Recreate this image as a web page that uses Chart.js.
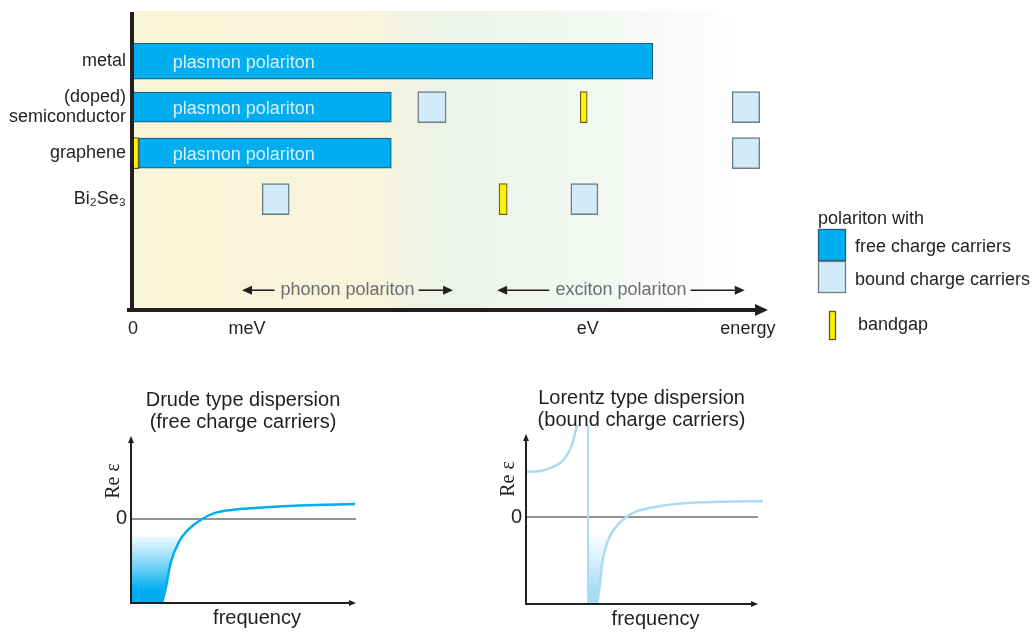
<!DOCTYPE html>
<html>
<head>
<meta charset="utf-8">
<title>Polaritons</title>
<script src="https://cdn.jsdelivr.net/npm/chart.js@4.4.1/dist/chart.umd.min.js"></script>
<style>
  html, body { margin: 0; padding: 0; background: #fff; }
  body { width: 1032px; height: 633px; position: relative; overflow: hidden; }
  .box { position: absolute; }
  #mainBox { left: 0; top: 0; width: 1032px; height: 350px; }
  #drudeBox { left: 90px; top: 380px; width: 290px; height: 253px; }
  #lorentzBox { left: 490px; top: 380px; width: 290px; height: 253px; }
</style>
</head>
<body>
<div class="box" id="mainBox"><canvas id="main"></canvas></div>
<div class="box" id="drudeBox"><canvas id="drude"></canvas></div>
<div class="box" id="lorentzBox"><canvas id="lorentz"></canvas></div>

<script>
// ---------- data: energy chart (arbitrary energy units 0..100) ----------
const materials = ['metal', ['(doped)', 'semiconductor'], 'graphene', 'Bi₂Se₃'];
const materialRows = [1, 2, 3, 4];

// plasmon polariton (free charge carriers)
const metalRows = [1];
const metalRanges = [[0, 82.5]];
const freeRows = [2, 3];
const freeRanges = [[0, 41], [0.9, 41]];
const freeLabel = 'plasmon polariton';

// bound charge carriers
const boundRows = [2, 2, 3, 4, 4];
const boundRanges = [[45.2, 49.7], [95.1, 99.5], [95.1, 99.5], [20.5, 24.8], [69.5, 73.8]];

// bandgaps
const gapRows = [2, 3, 4];
const gapRanges = [[71, 72.1], [0, 0.9], [58.1, 59.4]];

const energyTicks = [0, 18.1, 72.2, 97.6];
const energyLabels = ['0', 'meV', 'eV', 'energy'];

const polaritonNames = ['phonon polariton', 'exciton polariton'];
const polaritonRanges = [[17.3, 50.8], [57.8, 97.1]];
const polaritonRow = 5.98;

const legendTitle = 'polariton with';
const legendLabels = ['free charge carriers', 'bound charge carriers', 'bandgap'];

// ---------- data: dispersion sketches ----------
const drudeFreq = [1.41, 1.59, 1.8, 2.23, 2.59, 3.23, 3.82, 4.59, 5.64, 7.68, 10.18];
const drudeEps  = [-4.0, -3.24, -2.1, -1.0, -0.52, 0, 0.29, 0.43, 0.52, 0.64, 0.71];
const drudeFillFreq = [0, 1.41, 1.59, 1.8, 2.23, 2.32];
const drudeFillEps  = [-4.0, -4.0, -3.24, -2.1, -1.0, -0.84];
const drudeFillTop = -0.84;

const lorentzLowFreq = [0, 0.64, 1.09, 1.55, 1.86, 2.09, 2.23, 2.32];
const lorentzLowEps  = [2.14, 2.19, 2.33, 2.57, 2.95, 3.43, 4.0, 4.38];
const lorentzPoleFreq = 2.82;
const lorentzHighFreq = [3.23, 3.34, 3.48, 3.73, 4.05, 4.5, 4.95, 5.41, 5.86, 6.77, 8.5, 10.77];
const lorentzHighEps  = [-4.14, -3.33, -2.1, -1.1, -0.52, -0.05, 0.24, 0.38, 0.48, 0.62, 0.71, 0.76];
const lorentzFillFreq = [2.82, 3.23, 3.34, 3.48, 3.73, 3.8];
const lorentzFillEps  = [-4.14, -4.14, -3.33, -2.1, -1.1, -0.86];
const lorentzFillTop = -0.86;

// ---------- shared styling ----------
const SANS = '"Liberation Sans", Arial, sans-serif';
const SERIF = '"Liberation Serif", "Times New Roman", serif';
const INK = '#231f20';
const CYAN = '#00aeef';
const PALE = '#a8dcf3';

Chart.defaults.font.family = SANS;
Chart.defaults.color = INK;

const toBars = (rows, ranges) => rows.map((r, i) => ({ y: r, x: ranges[i] }));
const toPoints = (xs, ys) => xs.map((v, i) => ({ x: v, y: ys[i] }));

function arrowLine(ctx, from, to, y, head) {
  const dir = Math.sign(to - from);
  ctx.beginPath();
  ctx.moveTo(from, y);
  ctx.lineTo(to - dir * head, y);
  ctx.stroke();
  ctx.beginPath();
  ctx.moveTo(to, y);
  ctx.lineTo(to - dir * head, y - head * 0.45);
  ctx.lineTo(to - dir * head, y + head * 0.45);
  ctx.closePath();
  ctx.fill();
}

// background, in-bar labels, polariton ranges, axes and legend
const energyDecor = {
  id: 'energyDecor',
  beforeDatasetsDraw(chart) {
    const { ctx, chartArea: a } = chart;
    const g = ctx.createLinearGradient(a.left, 0, a.right + 6, 0);
    g.addColorStop(0, '#f8f4d8');
    g.addColorStop(0.36, '#f7f4da');
    g.addColorStop(0.5, '#edf3ea');
    g.addColorStop(0.74, '#f3f7f2');
    g.addColorStop(0.97, '#ffffff');
    ctx.save();
    ctx.fillStyle = g;
    ctx.fillRect(a.left, a.top - 1, a.right + 6 - a.left, a.bottom - a.top + 1);
    ctx.restore();
  },
  afterDatasetsDraw(chart) {
    const { ctx, chartArea: a, scales: { x, y } } = chart;
    ctx.save();
    ctx.font = '18px ' + SANS;
    ctx.textBaseline = 'middle';

    // text inside the plasmon bars
    ctx.fillStyle = '#d8f0fb';
    ctx.textAlign = 'left';
    [...metalRows, ...freeRows].forEach(r => {
      ctx.fillText(freeLabel, x.getPixelForValue(6.3), y.getPixelForValue(r) + 2);
    });

    // phonon / exciton polariton ranges
    const ay = y.getPixelForValue(polaritonRow);
    ctx.strokeStyle = INK;
    ctx.lineWidth = 1.6;
    polaritonNames.forEach((name, i) => {
      const x0 = x.getPixelForValue(polaritonRanges[i][0]);
      const x1 = x.getPixelForValue(polaritonRanges[i][1]);
      const cx = (x0 + x1) / 2;
      const w = ctx.measureText(name).width;
      ctx.fillStyle = '#6d6e71';
      ctx.textAlign = 'center';
      ctx.fillText(name, cx, ay);
      ctx.fillStyle = INK;
      arrowLine(ctx, cx - w / 2 - 6, x0, ay, 10);
      arrowLine(ctx, cx + w / 2 + 4, x1, ay, 10);
    });

    // axes
    ctx.fillStyle = INK;
    ctx.fillRect(a.left - 3, a.top, 4, a.bottom + 2 - a.top);
    ctx.fillRect(a.left - 6, a.bottom - 2, a.right - 6 - (a.left - 6), 4);
    ctx.beginPath();
    ctx.moveTo(a.right + 5, a.bottom);
    ctx.lineTo(a.right - 8, a.bottom - 6);
    ctx.lineTo(a.right - 8, a.bottom + 6);
    ctx.closePath();
    ctx.fill();

    // legend
    ctx.textAlign = 'left';
    ctx.fillStyle = INK;
    ctx.fillText(legendTitle, 818, 219);
    ctx.lineWidth = 1.3;
    ctx.fillStyle = CYAN;
    ctx.strokeStyle = '#1f5f7e';
    ctx.fillRect(818, 229, 28, 31);
    ctx.strokeRect(818.5, 229.5, 27, 31);
    ctx.fillStyle = '#d1ebf8';
    ctx.strokeStyle = '#6f7d86';
    ctx.fillRect(818, 261, 28, 31);
    ctx.strokeRect(818.5, 261.5, 27, 31);
    ctx.fillStyle = '#fff200';
    ctx.strokeStyle = '#5c5a1e';
    ctx.fillRect(829, 311, 7, 29);
    ctx.strokeRect(829.5, 311.5, 6, 28);
    ctx.fillStyle = INK;
    ctx.fillText(legendLabels[0], 855, 247);
    ctx.fillText(legendLabels[1], 855, 280);
    ctx.fillText(legendLabels[2], 858, 325);
    ctx.restore();
  }
};

const barBase = { grouped: true, stack: 'rows', borderSkipped: false };

new Chart(document.getElementById('main'), {
  type: 'bar',
  data: {
    datasets: [
      { ...barBase, label: 'bandgap', data: toBars(gapRows, gapRanges),
        backgroundColor: '#fff200', borderColor: '#5c5a1e', borderWidth: 1.2, barThickness: 31 },
      { ...barBase, label: 'bound charge carriers', data: toBars(boundRows, boundRanges),
        backgroundColor: '#d1ebf8', borderColor: '#6f7d86', borderWidth: 1.5, barThickness: 31 },
      { ...barBase, label: 'free charge carriers', data: toBars(freeRows, freeRanges),
        backgroundColor: CYAN, borderColor: '#1f5f7e', borderWidth: 1.2, barThickness: 30 },
      { ...barBase, label: 'free charge carriers (metal)', data: toBars(metalRows, metalRanges),
        backgroundColor: CYAN, borderColor: '#1f5f7e', borderWidth: 1.2, barThickness: 36 }
    ]
  },
  options: {
    indexAxis: 'y',
    responsive: true,
    maintainAspectRatio: false,
    animation: false,
    events: [],
    layout: { padding: { top: 12, right: 269, left: 0, bottom: 0 } },
    plugins: { legend: { display: false }, tooltip: { enabled: false } },
    scales: {
      x: {
        type: 'linear', min: 0, max: 100, stacked: false, offset: false,
        grid: { display: false, drawTicks: false },
        border: { display: false },
        afterBuildTicks: s => { s.ticks = energyTicks.map(v => ({ value: v })); },
        afterFit: s => { s.height = 40; s.paddingLeft = 0; s.paddingRight = 0; },
        ticks: {
          autoSkip: false, maxRotation: 0, padding: 8,
          font: { size: 18 }, color: INK,
          callback: v => energyLabels[energyTicks.indexOf(v)]
        }
      },
      y: {
        type: 'linear', reverse: true, min: -0.07, max: 6.41, offset: false,
        grid: { display: false, drawTicks: false },
        border: { display: false },
        afterBuildTicks: s => { s.ticks = materialRows.map(v => ({ value: v })); },
        afterFit: s => { s.width = 133; s.paddingTop = 0; s.paddingBottom = 0; },
        ticks: {
          padding: 7, font: { size: 18, lineHeight: 1.1 }, color: INK,
          callback: v => materials[materialRows.indexOf(v)]
        }
      }
    }
  },
  plugins: [energyDecor]
});

// ---------- dispersion sketches ----------
function fillGradient(rgb, topValue) {
  return (context) => {
    const { chart } = context;
    if (!chart.chartArea) return 'rgba(' + rgb + ',0.5)';
    const top = chart.scales.y.getPixelForValue(topValue);
    const g = chart.ctx.createLinearGradient(0, top, 0, chart.chartArea.bottom);
    g.addColorStop(0, 'rgba(' + rgb + ',0.06)');
    g.addColorStop(0.45, 'rgba(' + rgb + ',0.55)');
    g.addColorStop(0.8, 'rgba(' + rgb + ',1)');
    g.addColorStop(1, 'rgba(' + rgb + ',1)');
    return g;
  };
}

const dispersionDecor = {
  id: 'dispersionDecor',
  beforeDatasetsDraw(chart, args, opts) {
    const { ctx, scales: { x, y } } = chart;
    const y0 = y.getPixelForValue(0);
    ctx.save();
    ctx.strokeStyle = '#6d6e71';
    ctx.lineWidth = 1.5;
    ctx.beginPath();
    ctx.moveTo(x.getPixelForValue(0), y0);
    ctx.lineTo(x.getPixelForValue(opts.axisRight) + 1, y0);
    ctx.stroke();
    ctx.restore();
  },
  afterDatasetsDraw(chart, args, opts) {
    const { ctx, chartArea: a, scales: { x, y } } = chart;
    const x0 = x.getPixelForValue(0);
    const y0 = y.getPixelForValue(0);
    const top = y.getPixelForValue(opts.axisTop);
    const right = x.getPixelForValue(opts.axisRight);
    const bottom = a.bottom;
    ctx.save();
    ctx.strokeStyle = INK;
    ctx.fillStyle = INK;
    ctx.lineWidth = 2;
    ctx.beginPath();
    ctx.moveTo(x0, top + 5);
    ctx.lineTo(x0, bottom);
    ctx.lineTo(right - 5, bottom);
    ctx.stroke();
    ctx.beginPath();
    ctx.moveTo(x0, top);
    ctx.lineTo(x0 - 3, top + 7);
    ctx.lineTo(x0 + 3, top + 7);
    ctx.closePath();
    ctx.fill();
    ctx.beginPath();
    ctx.moveTo(right + 1, bottom);
    ctx.lineTo(right - 6, bottom - 3);
    ctx.lineTo(right - 6, bottom + 3);
    ctx.closePath();
    ctx.fill();

    ctx.font = '20px ' + SANS;
    ctx.textBaseline = 'middle';
    ctx.textAlign = 'center';
    const cx = (x0 + right) / 2;
    ctx.fillText(opts.title[0], cx, top - 36);
    ctx.fillText(opts.title[1], cx, top - 14);
    ctx.fillText('frequency', cx + 14, bottom + 15);
    ctx.textAlign = 'right';
    ctx.fillText('0', x0 - 4, y0);

    ctx.translate(x0 - 17, y0 - 38);
    ctx.rotate(-Math.PI / 2);
    ctx.textAlign = 'center';
    ctx.font = '20px ' + SERIF;
    ctx.fillText('Re ε', 0, 0);
    ctx.restore();
  }
};

function dispersionOptions(xMax, yMin, yMax, padding, decor) {
  return {
    responsive: true,
    maintainAspectRatio: false,
    animation: false,
    events: [],
    layout: { padding },
    elements: { point: { radius: 0 } },
    plugins: { legend: { display: false }, tooltip: { enabled: false }, dispersionDecor: decor },
    scales: {
      x: { type: 'linear', min: 0, max: xMax, display: false },
      y: { type: 'linear', min: yMin, max: yMax, display: false }
    }
  };
}

new Chart(document.getElementById('drude'), {
  type: 'line',
  data: {
    datasets: [
      { label: 'Re ε', data: toPoints(drudeFreq, drudeEps), borderColor: CYAN, borderWidth: 2.5,
        cubicInterpolationMode: 'monotone', fill: false },
      { label: 'negative Re ε', data: toPoints(drudeFillFreq, drudeFillEps), borderWidth: 0,
        borderColor: 'rgba(0,0,0,0)', cubicInterpolationMode: 'monotone',
        fill: { value: drudeFillTop }, backgroundColor: fillGradient('0,174,239', drudeFillTop) }
    ]
  },
  options: dispersionOptions(10.18, -4, 3.95, { left: 41, right: 25, top: 56, bottom: 30 },
    { title: ['Drude type dispersion', '(free charge carriers)'], axisTop: 3.95, axisRight: 10.18 }),
  plugins: [dispersionDecor]
});

new Chart(document.getElementById('lorentz'), {
  type: 'line',
  data: {
    datasets: [
      { label: 'Re ε (below resonance)', data: toPoints(lorentzLowFreq, lorentzLowEps), borderColor: PALE,
        borderWidth: 2.5, cubicInterpolationMode: 'monotone', fill: false },
      { label: 'resonance', data: toPoints([lorentzPoleFreq, lorentzPoleFreq], [-4.14, 4.38]),
        borderColor: PALE, borderWidth: 2, tension: 0, fill: false },
      { label: 'Re ε (above resonance)', data: toPoints(lorentzHighFreq, lorentzHighEps), borderColor: PALE,
        borderWidth: 2.5, cubicInterpolationMode: 'monotone', fill: false },
      { label: 'negative Re ε', data: toPoints(lorentzFillFreq, lorentzFillEps), borderWidth: 0,
        borderColor: 'rgba(0,0,0,0)', cubicInterpolationMode: 'monotone',
        fill: { value: lorentzFillTop }, backgroundColor: fillGradient('168,220,243', lorentzFillTop) }
    ]
  },
  options: dispersionOptions(10.77, -4.14, 4.38, { left: 36, right: 17, top: 45, bottom: 29 },
    { title: ['Lorentz type dispersion', '(bound charge carriers)'], axisTop: 3.95, axisRight: 10.5 }),
  plugins: [dispersionDecor]
});
</script>
</body>
</html>
